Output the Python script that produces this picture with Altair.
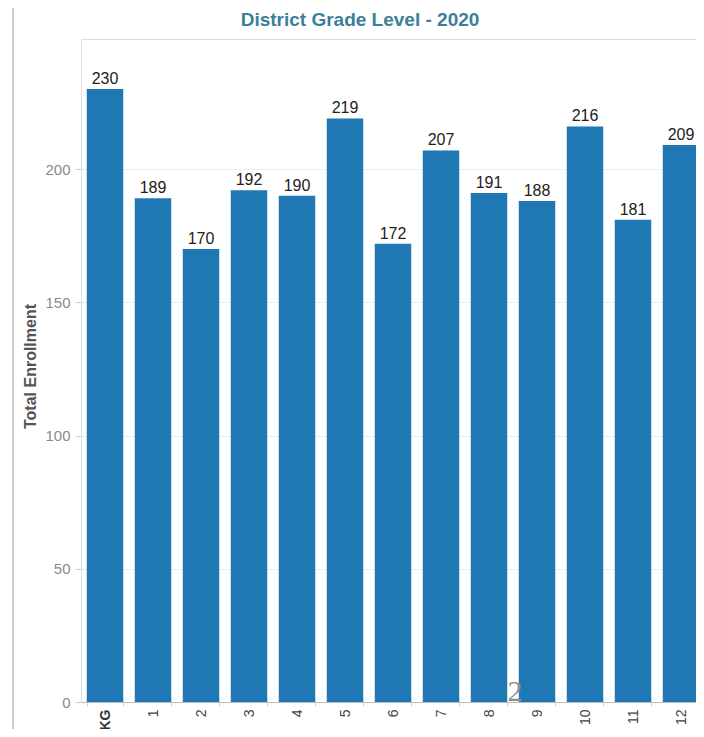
import altair as alt
import pandas as pd

# ---- data ----
grades = ["KG", "1", "2", "3", "4", "5", "6", "7", "8", "9", "10", "11", "12"]
enrollment = [230, 189, 170, 192, 190, 219, 172, 207, 191, 188, 216, 181, 209]
y_ticks = [0, 50, 100, 150, 200]
title_text = ["District Grade Level - 2020"]
stray_text = ["2"]

df = pd.DataFrame({"grade": grades, "enrollment": enrollment})

FONT = "Liberation Sans"
BAR = "#1f77b4"

x_enc = alt.X(
    "grade:N",
    sort=grades,
    scale=alt.Scale(paddingInner=0.24, paddingOuter=0.12),
    axis=alt.Axis(
        title=None,
        labelAngle=270,
        tickBand="extent",
        tickSize=4,
        tickColor="#f3c9ab",
        labelPadding=3,
        labelFont=FONT,
        labelFontSize=14,
        labelFontWeight=alt.ExprRef("datum.value == 'KG' ? 'bold' : 'normal'"),
        labelColor=alt.ExprRef("datum.value == 'KG' ? '#333333' : '#444444'"),
        domainColor="#bbbbbb",
        grid=False,
    ),
)

y_enc = alt.Y(
    "enrollment:Q",
    scale=alt.Scale(domain=[0, 248.8], nice=False, zero=True),
    axis=alt.Axis(
        values=y_ticks,
        title="Total Enrollment",
        titleFont=FONT,
        titleFontSize=16,
        titleFontWeight="bold",
        titleColor="#555555",
        titleAngle=270,
        titleX=-51,
        titleY=327,
        titleAlign="center",
        titleBaseline="middle",
        labelFont=FONT,
        labelFontSize=15,
        labelColor="#8a8a8a",
        labelPadding=5,
        tickSize=6,
        tickColor="#cccccc",
        domain=False,
        grid=True,
        gridColor="#eeeeee",
    ),
)

bars = alt.Chart(df).mark_bar(color=BAR).encode(x=x_enc, y=y_enc)

labels = alt.Chart(df).mark_text(
    baseline="alphabetic", dy=-5, fontSize=16, font=FONT, color="#222222"
).encode(
    x=alt.X("grade:N", sort=grades),
    y=alt.Y("enrollment:Q"),
    text=alt.Text("enrollment:Q"),
)

title = alt.Chart(pd.DataFrame({"t": title_text})).mark_text(
    font=FONT, fontSize=19, fontWeight="bold", color="#3b7f98",
    align="center", baseline="alphabetic",
).encode(x=alt.value(279), y=alt.value(-13), text="t:N")

stray = alt.Chart(pd.DataFrame({"t": stray_text})).mark_text(
    font="Liberation Sans Narrow", fontSize=30, color="#8f8f8f",
    align="center", baseline="alphabetic",
).encode(x=alt.value(434), y=alt.value(662), text="t:N")

frame = alt.Chart(pd.DataFrame({"t": stray_text})).mark_rule(
    color="#bdbdbd", strokeWidth=1.5
).encode(x=alt.value(-68), y=alt.value(-31), y2=alt.value(690))

chart = (
    alt.layer(frame, bars, labels, title, stray)
    .properties(
        width=624,
        height=663,
        autosize=alt.AutoSizeParams(type="none"),
        padding={"left": 73, "top": 31, "right": -9, "bottom": 27},
    )
    .configure_view(stroke="#dddddd")
    .configure(background="white")
)

chart.save("out.html", embed_options={"renderer": "svg", "actions": False})
